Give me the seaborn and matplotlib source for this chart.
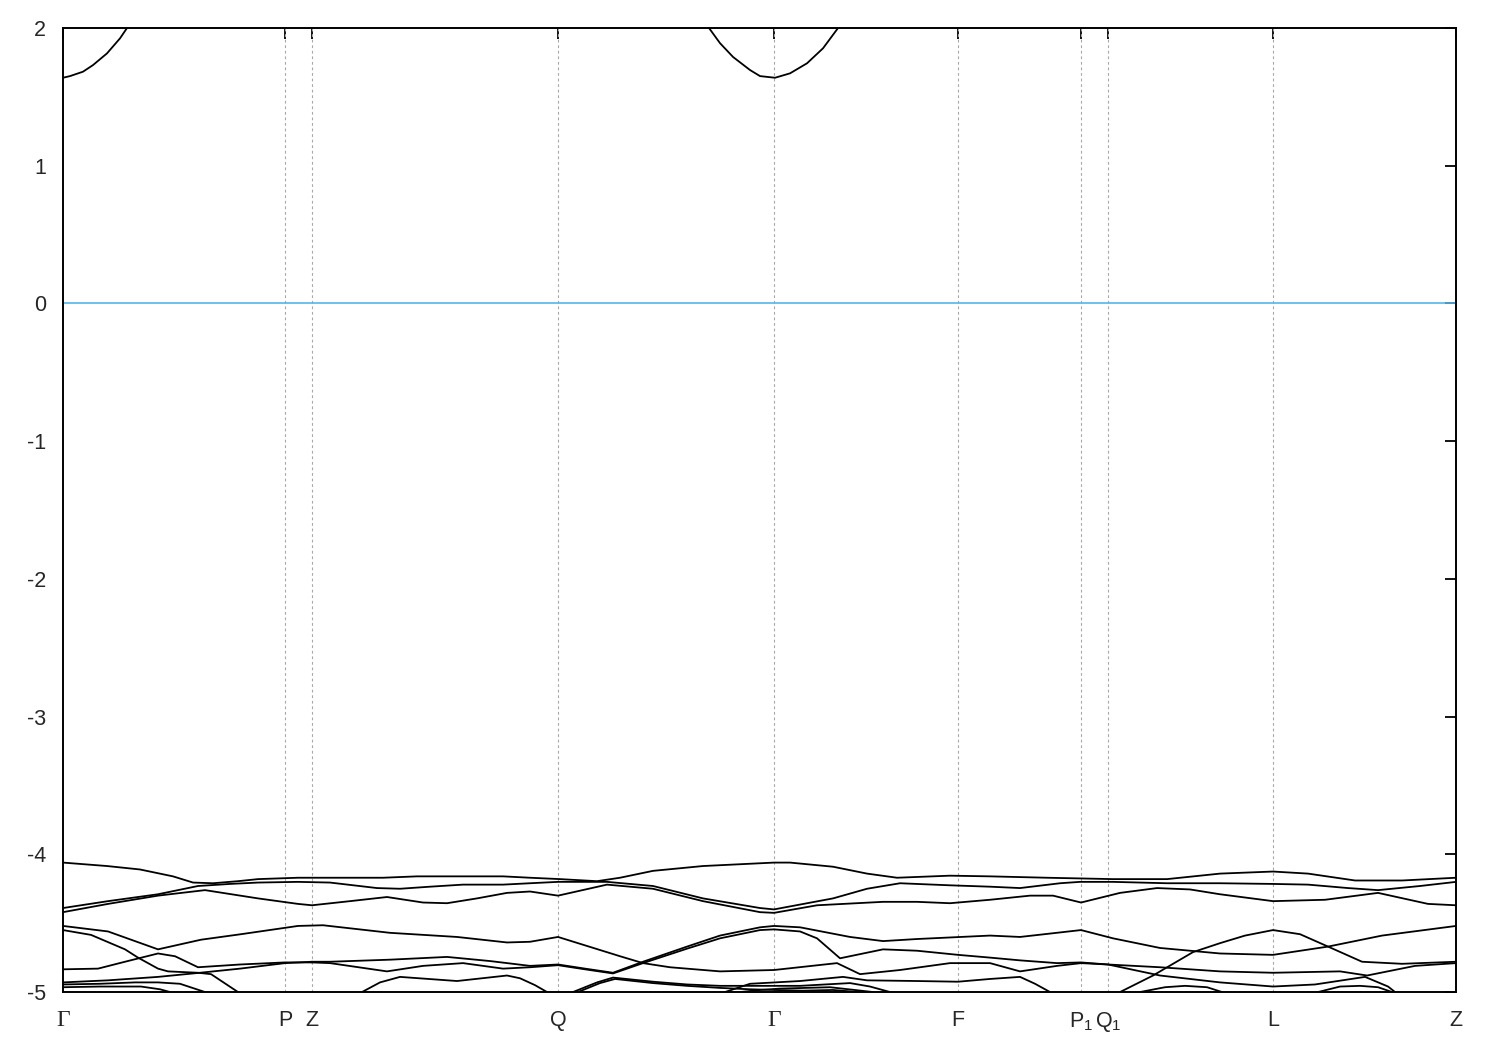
import pandas as pd
import matplotlib
matplotlib.use('Agg')
import matplotlib.pyplot as plt
import seaborn as sns

# high-symmetry points along the k-path
kpoint_labels = ['Γ', 'P', 'Z', 'Q', 'Γ', 'F', r'$\mathregular{P_1}$', r'$\mathregular{Q_1}$', 'L', 'Z']
kpoint_pos = [0.0, 2.22, 2.49, 4.95, 7.11, 8.95, 10.18, 10.45, 12.10, 13.93]
energy_ticks = [-5, -4, -3, -2, -1, 0, 1, 2]
fermi_level = 0.0

# conduction band (k, E)
cb_left = [(0.00, 1.639), (0.07, 1.651), (0.20, 1.683), (0.30, 1.731), (0.44, 1.816),
           (0.57, 1.925), (0.64, 2.0)]
cb_mid = [(6.46, 2.0), (6.57, 1.89), (6.70, 1.79), (6.87, 1.695), (6.97, 1.651), (7.12, 1.639),
          (7.27, 1.671), (7.44, 1.744), (7.60, 1.853), (7.75, 2.0)]

# valence bands
vb_a = [(0.00, -4.06), (0.44, -4.085), (0.77, -4.11), (1.10, -4.16), (1.30, -4.205), (1.50, -4.21),
        (1.75, -4.195), (1.95, -4.18), (2.35, -4.17), (3.20, -4.17), (3.54, -4.16), (4.40, -4.16),
        (4.67, -4.17), (4.97, -4.18), (5.34, -4.195), (5.57, -4.17), (5.90, -4.12), (6.40, -4.085),
        (7.11, -4.06), (7.27, -4.06), (7.70, -4.09), (8.04, -4.14), (8.34, -4.17), (8.87, -4.155),
        (9.27, -4.16), (9.84, -4.17), (10.50, -4.18), (11.04, -4.18), (11.57, -4.14), (12.10, -4.125),
        (12.45, -4.14), (12.92, -4.19), (13.39, -4.19), (13.93, -4.17)]
vb_b = [(0.00, -4.39), (0.45, -4.34), (0.95, -4.29), (1.35, -4.23), (1.67, -4.215), (1.95, -4.205),
        (2.35, -4.20), (2.67, -4.205), (3.14, -4.245), (3.37, -4.25), (3.67, -4.235), (4.00, -4.22),
        (4.40, -4.22), (4.67, -4.21), (4.95, -4.20), (5.44, -4.20), (5.90, -4.23), (6.40, -4.32),
        (6.97, -4.39), (7.11, -4.40), (7.70, -4.32), (8.04, -4.25), (8.37, -4.21), (8.87, -4.225),
        (9.27, -4.235), (9.57, -4.245), (9.97, -4.21), (10.17, -4.20), (10.50, -4.20), (11.04, -4.21),
        (11.57, -4.21), (12.10, -4.215), (12.45, -4.22), (12.85, -4.245), (13.15, -4.26),
        (13.57, -4.23), (13.93, -4.20)]
vb_c = [(0.00, -4.42), (0.45, -4.36), (0.95, -4.30), (1.42, -4.26), (1.95, -4.32), (2.35, -4.36),
        (2.49, -4.37), (2.87, -4.34), (3.24, -4.31), (3.60, -4.35), (3.84, -4.355), (4.14, -4.32),
        (4.44, -4.28), (4.67, -4.27), (4.95, -4.30), (5.44, -4.22), (5.90, -4.25), (6.40, -4.34),
        (6.97, -4.42), (7.11, -4.425), (7.54, -4.37), (8.20, -4.345), (8.54, -4.345), (8.87, -4.355),
        (9.27, -4.33), (9.67, -4.30), (9.90, -4.30), (10.18, -4.35), (10.57, -4.28), (10.94, -4.245),
        (11.27, -4.255), (11.57, -4.29), (12.10, -4.34), (12.62, -4.33), (13.15, -4.28),
        (13.65, -4.36), (13.93, -4.37)]
vb_d = [(0.00, -4.52), (0.45, -4.56), (0.95, -4.69), (1.38, -4.62), (1.78, -4.58), (2.35, -4.52),
        (2.60, -4.515), (3.27, -4.57), (3.94, -4.60), (4.44, -4.64), (4.67, -4.635), (4.95, -4.60),
        (5.57, -4.74), (5.80, -4.79), (6.07, -4.82), (6.57, -4.85), (7.11, -4.84), (7.74, -4.79),
        (7.97, -4.87), (8.37, -4.84), (8.87, -4.79), (9.27, -4.79), (9.57, -4.85), (9.94, -4.81),
        (10.18, -4.79), (10.45, -4.80), (10.97, -4.88), (11.57, -4.93), (12.10, -4.96),
        (12.52, -4.945), (13.02, -4.89), (13.25, -4.96), (13.32, -5.0)]
vb_e = [(0.00, -4.55), (0.28, -4.585), (0.62, -4.69), (0.75, -4.75), (0.95, -4.83), (1.05, -4.85),
        (1.35, -4.86), (1.48, -4.87), (1.75, -5.0)]
vb_f = [(0.00, -4.835), (0.35, -4.83), (0.62, -4.78), (0.95, -4.72), (1.12, -4.74), (1.35, -4.82),
        (1.77, -4.80), (2.22, -4.785), (2.49, -4.785)]
vb_g = [(0.00, -4.93), (0.45, -4.915), (0.95, -4.89), (1.37, -4.86), (1.77, -4.83), (2.22, -4.79),
        (2.49, -4.78)]
vb_h1 = [(0.00, -4.965), (0.37, -4.96), (0.78, -4.96), (0.97, -4.98), (1.07, -5.0)]
vb_h2 = [(0.00, -4.945), (0.37, -4.94), (0.72, -4.93), (0.95, -4.93), (1.17, -4.94), (1.42, -5.0)]
vb_r1 = [(2.49, -4.78), (2.67, -4.78), (3.27, -4.765), (3.84, -4.745), (4.27, -4.775), (4.67, -4.81),
         (4.95, -4.80), (5.22, -4.83), (5.50, -4.86), (5.80, -4.78), (6.24, -4.67), (6.57, -4.59),
         (6.97, -4.53), (7.11, -4.52), (7.37, -4.53), (7.87, -4.60), (8.20, -4.63), (8.54, -4.615),
         (9.27, -4.59), (9.57, -4.60), (10.18, -4.55), (10.50, -4.61), (10.97, -4.68), (11.57, -4.72),
         (12.10, -4.73), (12.65, -4.67), (13.19, -4.59), (13.93, -4.52)]
vb_r2 = [(2.49, -4.785), (2.67, -4.79), (3.24, -4.85), (3.60, -4.81), (4.00, -4.79), (4.40, -4.83),
         (4.67, -4.82), (4.95, -4.805), (5.22, -4.835), (5.50, -4.865), (5.80, -4.79), (6.24, -4.685),
         (6.57, -4.61), (6.97, -4.55), (7.11, -4.545), (7.37, -4.56), (7.54, -4.61), (7.77, -4.755),
         (8.20, -4.69), (8.54, -4.70), (8.95, -4.73), (9.27, -4.75), (9.57, -4.77), (9.94, -4.79),
         (10.18, -4.785), (10.45, -4.80), (10.97, -4.82), (11.57, -4.85), (12.10, -4.86),
         (12.77, -4.85), (13.04, -4.88), (13.52, -4.81), (13.93, -4.79)]
vb_u = [(2.99, -5.0), (3.17, -4.93), (3.37, -4.89), (3.94, -4.92), (4.44, -4.88), (4.57, -4.90),
        (4.72, -4.95), (4.84, -5.0)]
vb_s1 = [(5.10, -5.0), (5.34, -4.93), (5.50, -4.895), (5.90, -4.925), (6.24, -4.945), (6.57, -4.955),
         (7.11, -4.955), (7.37, -4.955), (7.87, -4.935), (8.07, -4.96), (8.27, -5.0)]
vb_s2 = [(5.15, -5.0), (5.37, -4.935), (5.52, -4.905), (5.90, -4.935), (6.24, -4.955), (6.57, -4.97),
         (6.87, -4.98), (7.11, -4.985), (7.40, -4.99), (7.70, -4.985), (7.95, -5.0)]
vb_l1 = [(6.62, -5.0), (6.87, -4.94), (7.12, -4.93), (7.37, -4.92), (7.80, -4.89), (8.04, -4.915),
         (8.54, -4.92), (8.95, -4.925), (9.27, -4.905), (9.57, -4.89), (9.72, -4.94), (9.87, -5.0)]
vb_l3 = [(6.77, -5.0), (6.97, -4.985), (7.17, -4.975), (7.67, -4.965), (8.10, -5.0)]
vb_t = [(10.57, -5.0), (10.90, -4.88), (11.30, -4.71), (11.57, -4.645), (11.82, -4.59), (12.10, -4.55),
        (12.37, -4.58), (12.65, -4.67), (12.99, -4.78), (13.39, -4.795), (13.93, -4.78)]
vb_b1 = [(10.77, -5.0), (11.02, -4.965), (11.22, -4.955), (11.44, -4.965), (11.59, -5.0)]
vb_b2 = [(12.55, -5.0), (12.77, -4.96), (12.97, -4.955), (13.15, -4.965), (13.29, -5.0)]

bands = {
    'cb_left': cb_left, 'cb_mid': cb_mid,
    'a': vb_a, 'b': vb_b, 'c': vb_c, 'd': vb_d, 'e': vb_e, 'f': vb_f, 'g': vb_g,
    'h1': vb_h1, 'h2': vb_h2, 'r1': vb_r1, 'r2': vb_r2, 'u': vb_u, 's1': vb_s1, 's2': vb_s2,
    'l1': vb_l1, 'l3': vb_l3, 't': vb_t, 'b1': vb_b1, 'b2': vb_b2,
}

rows = []
for name, pts in bands.items():
    for k, e in pts:
        rows.append((name, k, e))
df = pd.DataFrame(rows, columns=['band', 'k', 'E'])

sns.set_style('white')
plt.rcParams['font.family'] = ['Liberation Sans', 'DejaVu Sans']
plt.rcParams['mathtext.fontset'] = 'custom'
plt.rcParams['mathtext.rm'] = 'Liberation Sans'
plt.rcParams['axes.unicode_minus'] = False

fig = plt.figure(figsize=(15, 10.5), dpi=100)
ax = fig.add_axes([0.042, 0.0552, 0.9287, 0.9181])

# dotted lines at the high-symmetry points
for kp in kpoint_pos[1:-1]:
    ax.axvline(kp, color='#a8a8a8', linestyle=(0, (2.5, 2.5)), linewidth=0.8, zorder=1)
ax.axhline(fermi_level, color='#56b4e9', linewidth=1.2, zorder=2)

sns.lineplot(data=df, x='k', y='E', units='band', estimator=None, sort=False,
             color='black', linewidth=1.3, legend=False, ax=ax, zorder=3)

ax.set_xlim(kpoint_pos[0], kpoint_pos[-1])
ax.set_ylim(-5, 2)
ax.set_xticks(kpoint_pos)
ax.set_xticklabels(kpoint_labels)
ax.set_yticks(energy_ticks)
ax.set_yticklabels([str(t) for t in energy_ticks])
ax.set_xlabel('')
ax.set_ylabel('')
ax.tick_params(direction='in', top=True, right=True, length=8, width=1.3,
               labelsize=15.5, color='black')
ax.tick_params(axis='x', pad=13)
ax.tick_params(axis='y', pad=12)
for lbl in ax.get_xticklabels():
    if lbl.get_text() == 'Γ':
        lbl.set_fontfamily('Liberation Serif')
        lbl.set_fontsize(17)
for sp in ax.spines.values():
    sp.set_color('black')
    sp.set_linewidth(1.4)

fig.savefig('out.png', dpi=100, facecolor='white')
